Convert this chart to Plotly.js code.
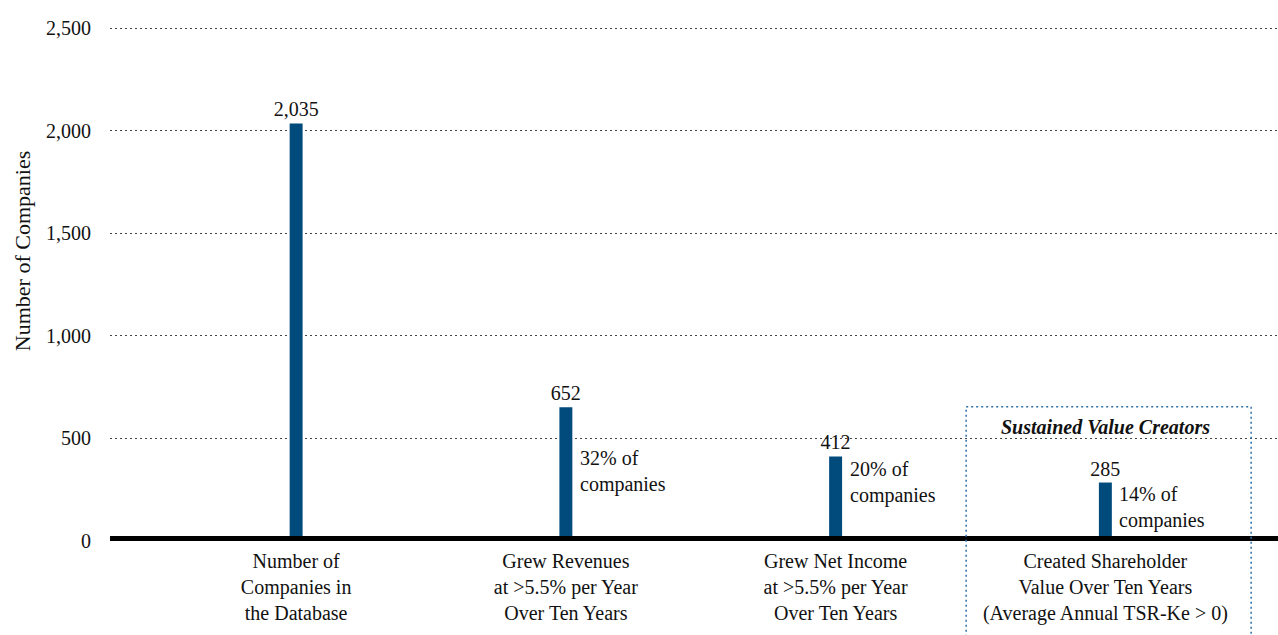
<!DOCTYPE html>
<html>
<head>
<meta charset="utf-8">
<script src="https://cdn.plot.ly/plotly-3.0.1.min.js"></script>
<style>
  html, body { margin: 0; padding: 0; background: #fff; }
  #chart { width: 1278px; height: 635px; }
</style>
</head>
<body>
<div id="chart"></div>
<script>
// Funnel of companies: database size and how many met each performance screen
const categories = [
  'Number of<br>Companies in<br>the Database',
  'Grew Revenues<br>at &gt;5.5% per Year<br>Over Ten Years',
  'Grew Net Income<br>at &gt;5.5% per Year<br>Over Ten Years',
  'Created Shareholder<br>Value Over Ten Years<br>(Average Annual TSR-Ke &gt; 0)'
];
const companies = [2035, 652, 412, 285];
const yTicks = [0, 500, 1000, 1500, 2000, 2500];
const yTickLabels = ['0', '500', '1,000', '1,500', '2,000', '2,500'];
const yTitle = 'Number of Companies';
const highlightTitle = 'Sustained Value Creators';

const FONT = 'Liberation Serif, Times New Roman, serif';
const FS = 20;
const BAR = '#004b7c';
const xs = categories.map((_, i) => i);
const total = companies[0];

// vertical centre (in data units) of each "% of companies" note
const noteCentre = [null, 341, 283, 161];

const trace = {
  type: 'bar',
  x: xs,
  y: companies,
  width: 0.048,
  marker: { color: BAR },
  text: companies.map(v => v.toLocaleString('en-US')),
  textposition: 'outside',
  constraintext: 'none',
  textfont: { family: FONT, size: FS, color: '#111' },
  cliponaxis: false,
  hoverinfo: 'skip'
};

const annotations = [];
companies.forEach((v, i) => {
  if (i === 0) return;
  const pct = Math.round(v / total * 100);
  annotations.push({
    x: i, y: noteCentre[i], xref: 'x', yref: 'y',
    xanchor: 'left', yanchor: 'middle', align: 'left',
    xshift: 12,
    text: pct + '% of<br>companies',
    showarrow: false,
    font: { family: FONT, size: FS, color: '#111' }
  });
});
annotations.push({
  x: 3, y: 555, xref: 'x', yref: 'y',
  xanchor: 'center', yanchor: 'middle',
  text: '<b><i>' + highlightTitle + '</i></b>',
  showarrow: false,
  font: { family: FONT, size: FS, color: '#111' }
});
// vertical axis title, set a little above the plot's midline
annotations.push({
  x: -0.0753, y: 0.564, xref: 'paper', yref: 'paper',
  xanchor: 'center', yanchor: 'middle',
  textangle: -90,
  text: yTitle,
  showarrow: false,
  font: { family: FONT, size: 22, color: '#111' }
});

const layout = {
  width: 1278, height: 635,
  margin: { l: 110, r: 0, t: 27, b: 94 },
  paper_bgcolor: '#fff', plot_bgcolor: '#fff',
  showlegend: false,
  xaxis: {
    range: [-0.69, 3.64],
    tickvals: xs, ticktext: categories,
    ticks: '', showgrid: false, zeroline: false, showline: false,
    tickfont: { family: FONT, size: FS, color: '#111' },
    ticklabelstandoff: 6,
    fixedrange: true
  },
  yaxis: {
    range: [0, 2505],
    tickvals: yTicks, ticktext: yTickLabels,
    ticks: '', ticklabelstandoff: 18,
    showgrid: true, gridcolor: '#444', griddash: '2px,3px', gridwidth: 1,
    zeroline: false, showline: false,
    tickfont: { family: FONT, size: FS, color: '#111' },
    fixedrange: true
  },
  shapes: [
    // heavy baseline at zero
    { type: 'line', xref: 'paper', yref: 'y', x0: 0, x1: 1, y0: 0, y1: 0,
      line: { color: '#000', width: 10 }, layer: 'above' },
    // dotted frame around the last group
    { type: 'rect', xref: 'paper', yref: 'paper', x0: 0.733, x1: 0.977, y0: -0.2, y1: 0.2612,
      line: { color: '#2a6ea8', width: 1.5, dash: '2px,3px' }, fillcolor: 'rgba(0,0,0,0)', layer: 'above' }
  ],
  annotations: annotations
};

Plotly.newPlot('chart', [trace], layout, { displayModeBar: false, staticPlot: true });
</script>
</body>
</html>
